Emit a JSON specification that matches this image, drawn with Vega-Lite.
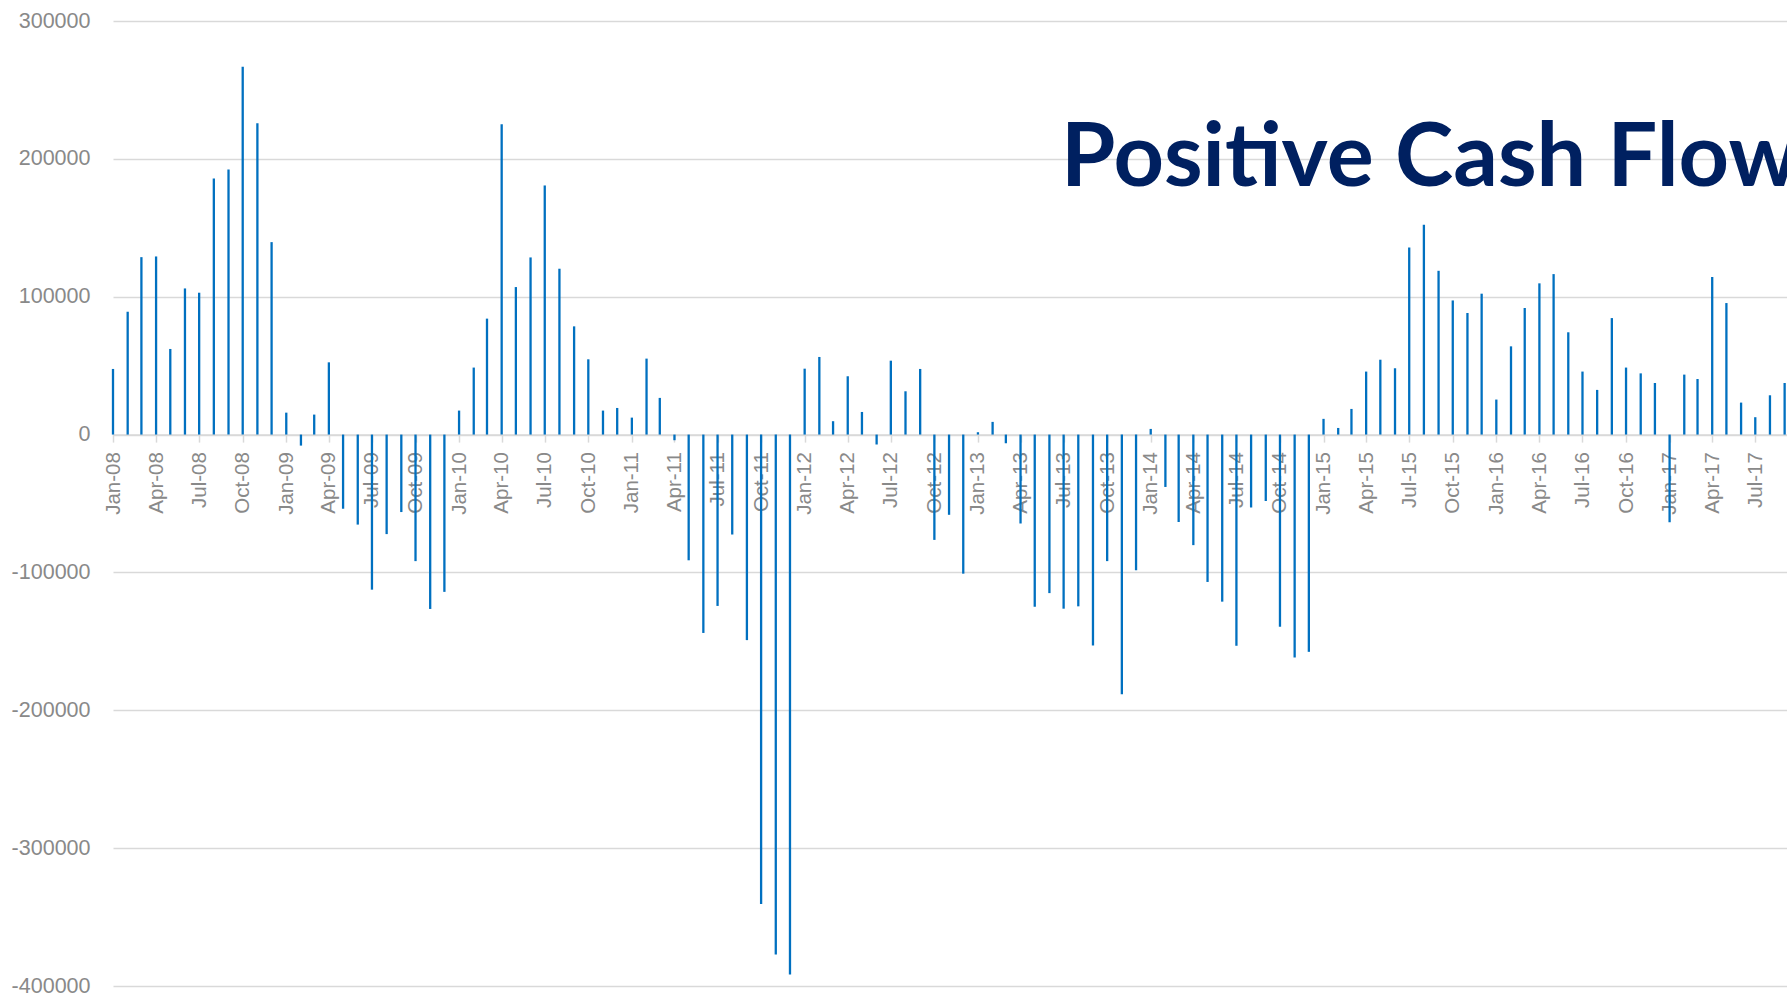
{
  "$schema": "https://vega.github.io/schema/vega-lite/v6.json",
  "width": 1674,
  "height": 965,
  "autosize": {"type": "none"},
  "padding": {"left": 113, "top": 21, "right": 0, "bottom": 10},
  "background": "white",
  "title": {
    "text": "Positive Cash Flow",
    "anchor": "end",
    "frame": "group",
    "orient": "top",
    "offset": -264,
    "baseline": "alphabetic",
    "dx": 12,
    "font": "Lato",
    "fontWeight": "bold",
    "fontSize": 88,
    "color": "#002060"
  },
  "data": {
    "values": [
      {"month": "2008-01-01", "cash": 47600}, {"month": "2008-02-01", "cash": 89100}, {"month": "2008-03-01", "cash": 128700}, {"month": "2008-04-01", "cash": 129200},
      {"month": "2008-05-01", "cash": 62100}, {"month": "2008-06-01", "cash": 106000}, {"month": "2008-07-01", "cash": 102900}, {"month": "2008-08-01", "cash": 185700},
      {"month": "2008-09-01", "cash": 192300}, {"month": "2008-10-01", "cash": 266900}, {"month": "2008-11-01", "cash": 225800}, {"month": "2008-12-01", "cash": 139600},
      {"month": "2009-01-01", "cash": 15900}, {"month": "2009-02-01", "cash": -8000}, {"month": "2009-03-01", "cash": 14500}, {"month": "2009-04-01", "cash": 52400},
      {"month": "2009-05-01", "cash": -53800}, {"month": "2009-06-01", "cash": -65300}, {"month": "2009-07-01", "cash": -112500}, {"month": "2009-08-01", "cash": -72200},
      {"month": "2009-09-01", "cash": -56200}, {"month": "2009-10-01", "cash": -91800}, {"month": "2009-11-01", "cash": -126500}, {"month": "2009-12-01", "cash": -114100},
      {"month": "2010-01-01", "cash": 17400}, {"month": "2010-02-01", "cash": 48600}, {"month": "2010-03-01", "cash": 84100}, {"month": "2010-04-01", "cash": 225100},
      {"month": "2010-05-01", "cash": 107000}, {"month": "2010-06-01", "cash": 128500}, {"month": "2010-07-01", "cash": 180700}, {"month": "2010-08-01", "cash": 120300},
      {"month": "2010-09-01", "cash": 78500}, {"month": "2010-10-01", "cash": 54600}, {"month": "2010-11-01", "cash": 17400}, {"month": "2010-12-01", "cash": 19300},
      {"month": "2011-01-01", "cash": 12300}, {"month": "2011-02-01", "cash": 55100}, {"month": "2011-03-01", "cash": 26600}, {"month": "2011-04-01", "cash": -4100},
      {"month": "2011-05-01", "cash": -91200}, {"month": "2011-06-01", "cash": -143900}, {"month": "2011-07-01", "cash": -124300}, {"month": "2011-08-01", "cash": -72500},
      {"month": "2011-09-01", "cash": -149100}, {"month": "2011-10-01", "cash": -340500}, {"month": "2011-11-01", "cash": -377100}, {"month": "2011-12-01", "cash": -391700},
      {"month": "2012-01-01", "cash": 47800}, {"month": "2012-02-01", "cash": 56300}, {"month": "2012-03-01", "cash": 9700}, {"month": "2012-04-01", "cash": 42300},
      {"month": "2012-05-01", "cash": 16400}, {"month": "2012-06-01", "cash": -7200}, {"month": "2012-07-01", "cash": 53600}, {"month": "2012-08-01", "cash": 31400},
      {"month": "2012-09-01", "cash": 47600}, {"month": "2012-10-01", "cash": -76400}, {"month": "2012-11-01", "cash": -58200}, {"month": "2012-12-01", "cash": -100900},
      {"month": "2013-01-01", "cash": 1700}, {"month": "2013-02-01", "cash": 9200}, {"month": "2013-03-01", "cash": -6300}, {"month": "2013-04-01", "cash": -64500},
      {"month": "2013-05-01", "cash": -124900}, {"month": "2013-06-01", "cash": -115000}, {"month": "2013-07-01", "cash": -126300}, {"month": "2013-08-01", "cash": -124600},
      {"month": "2013-09-01", "cash": -153000}, {"month": "2013-10-01", "cash": -91800}, {"month": "2013-11-01", "cash": -188300}, {"month": "2013-12-01", "cash": -98400},
      {"month": "2014-01-01", "cash": 4100}, {"month": "2014-02-01", "cash": -38000}, {"month": "2014-03-01", "cash": -63400}, {"month": "2014-04-01", "cash": -80200},
      {"month": "2014-05-01", "cash": -106900}, {"month": "2014-06-01", "cash": -121200}, {"month": "2014-07-01", "cash": -153200}, {"month": "2014-08-01", "cash": -52900},
      {"month": "2014-09-01", "cash": -48200}, {"month": "2014-10-01", "cash": -139400}, {"month": "2014-11-01", "cash": -161700}, {"month": "2014-12-01", "cash": -157600},
      {"month": "2015-01-01", "cash": 11400}, {"month": "2015-02-01", "cash": 4800}, {"month": "2015-03-01", "cash": 18600}, {"month": "2015-04-01", "cash": 45700},
      {"month": "2015-05-01", "cash": 54300}, {"month": "2015-06-01", "cash": 48100}, {"month": "2015-07-01", "cash": 135700}, {"month": "2015-08-01", "cash": 152200},
      {"month": "2015-09-01", "cash": 118800}, {"month": "2015-10-01", "cash": 97300}, {"month": "2015-11-01", "cash": 88200}, {"month": "2015-12-01", "cash": 102200},
      {"month": "2016-01-01", "cash": 25400}, {"month": "2016-02-01", "cash": 64000}, {"month": "2016-03-01", "cash": 91800}, {"month": "2016-04-01", "cash": 109700},
      {"month": "2016-05-01", "cash": 116400}, {"month": "2016-06-01", "cash": 74200}, {"month": "2016-07-01", "cash": 45700}, {"month": "2016-08-01", "cash": 32400},
      {"month": "2016-09-01", "cash": 84500}, {"month": "2016-10-01", "cash": 48600}, {"month": "2016-11-01", "cash": 44400}, {"month": "2016-12-01", "cash": 37400},
      {"month": "2017-01-01", "cash": -63600}, {"month": "2017-02-01", "cash": 43500}, {"month": "2017-03-01", "cash": 40300}, {"month": "2017-04-01", "cash": 114300},
      {"month": "2017-05-01", "cash": 95400}, {"month": "2017-06-01", "cash": 23200}, {"month": "2017-07-01", "cash": 12600}, {"month": "2017-08-01", "cash": 28500},
      {"month": "2017-09-01", "cash": 37400}
    ]
  },
  "mark": {"type": "bar", "color": "#0070C0", "size": 2.3},
  "encoding": {
    "x": {
      "field": "month",
      "type": "temporal",
      "scale": {
        "type": "utc",
        "padding": 0,
        "domain": [
          {"year": 2008, "month": 1, "date": 1, "utc": true},
          {"year": 2017, "month": 9, "date": 6, "utc": true}
        ]
      },
      "axis": {
        "title": null,
        "orient": "bottom",
        "offset": -551.4,
        "format": "%b-%y",
        "tickCount": {"interval": "month", "step": 3},
        "labelAngle": 270,
        "labelAlign": "right",
        "labelBaseline": "middle",
        "labelFont": "Liberation Sans",
        "labelFontSize": 20.5,
        "labelColor": "#898989",
        "labelPadding": 9.5,
        "labelOverlap": false,
        "labelFlush": false,
        "tickSize": 7.5,
        "tickColor": "#d9d9d9",
        "tickWidth": 1.5,
        "domainColor": "#d9d9d9",
        "domainWidth": 1.5,
        "grid": false,
        "zindex": 0
      }
    },
    "y": {
      "field": "cash",
      "type": "quantitative",
      "scale": {"domain": [-400000, 300000], "nice": false},
      "axis": {
        "title": null,
        "labelExpr": "'' + datum.value",
        "values": [-400000, -300000, -200000, -100000, 0, 100000, 200000, 300000],
        "grid": true,
        "gridColor": "#d9d9d9",
        "gridWidth": 1.5,
        "domain": false,
        "ticks": false,
        "tickSize": 0,
        "labelPadding": 23,
        "labelFont": "Liberation Sans",
        "labelFontSize": 21.5,
        "labelColor": "#898989",
        "zindex": 0
      }
    }
  },
  "config": {"view": {"stroke": null}}
}
